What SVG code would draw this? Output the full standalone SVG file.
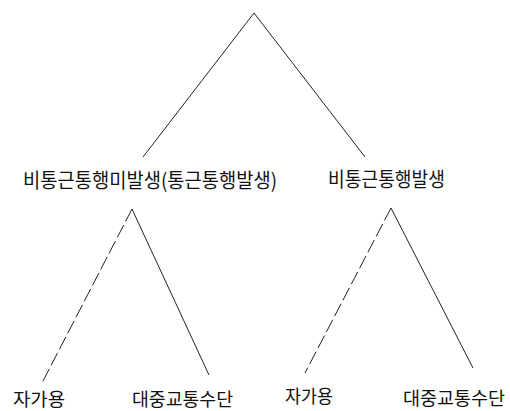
<svg xmlns="http://www.w3.org/2000/svg" width="510" height="411" viewBox="0 0 510 411">
<style>
.t{font-family:"Noto Sans CJK KR","Noto Sans",sans-serif;fill:#111;}
.m{font-size:20px;}
.b{font-size:18px;}
.l{stroke:#222;stroke-width:1;fill:none;}
.d{stroke-dasharray:14 4;}
</style>
<rect width="510" height="411" fill="#fff"/>
<g id="connectors">
<line class="l" x1="254" y1="13" x2="143" y2="157"/>
<line class="l" x1="254" y1="13" x2="365" y2="157"/>
<line class="l d" x1="132" y1="209" x2="42" y2="383"/>
<line class="l" x1="132" y1="209" x2="209" y2="375"/>
<line class="l d" x1="391" y1="208" x2="305" y2="373"/>
<line class="l" x1="391" y1="208" x2="473" y2="368"/>
</g>
<g id="node-left"><text class="t m" x="23" y="188" textLength="254" lengthAdjust="spacingAndGlyphs">비통근통행미발생(통근통행발생)</text></g>
<g id="node-right"><text class="t m" x="328" y="187" textLength="117" lengthAdjust="spacingAndGlyphs">비통근통행발생</text></g>
<g id="leaf1"><text class="t b" x="13" y="406" textLength="52" lengthAdjust="spacingAndGlyphs">자가용</text></g>
<g id="leaf2"><text class="t b" x="132" y="406" textLength="101" lengthAdjust="spacingAndGlyphs">대중교통수단</text></g>
<g id="leaf3"><text class="t b" x="285" y="403" textLength="48" lengthAdjust="spacingAndGlyphs">자가용</text></g>
<g id="leaf4"><text class="t b" x="403" y="405" textLength="102" lengthAdjust="spacingAndGlyphs">대중교통수단</text></g>
</svg>
